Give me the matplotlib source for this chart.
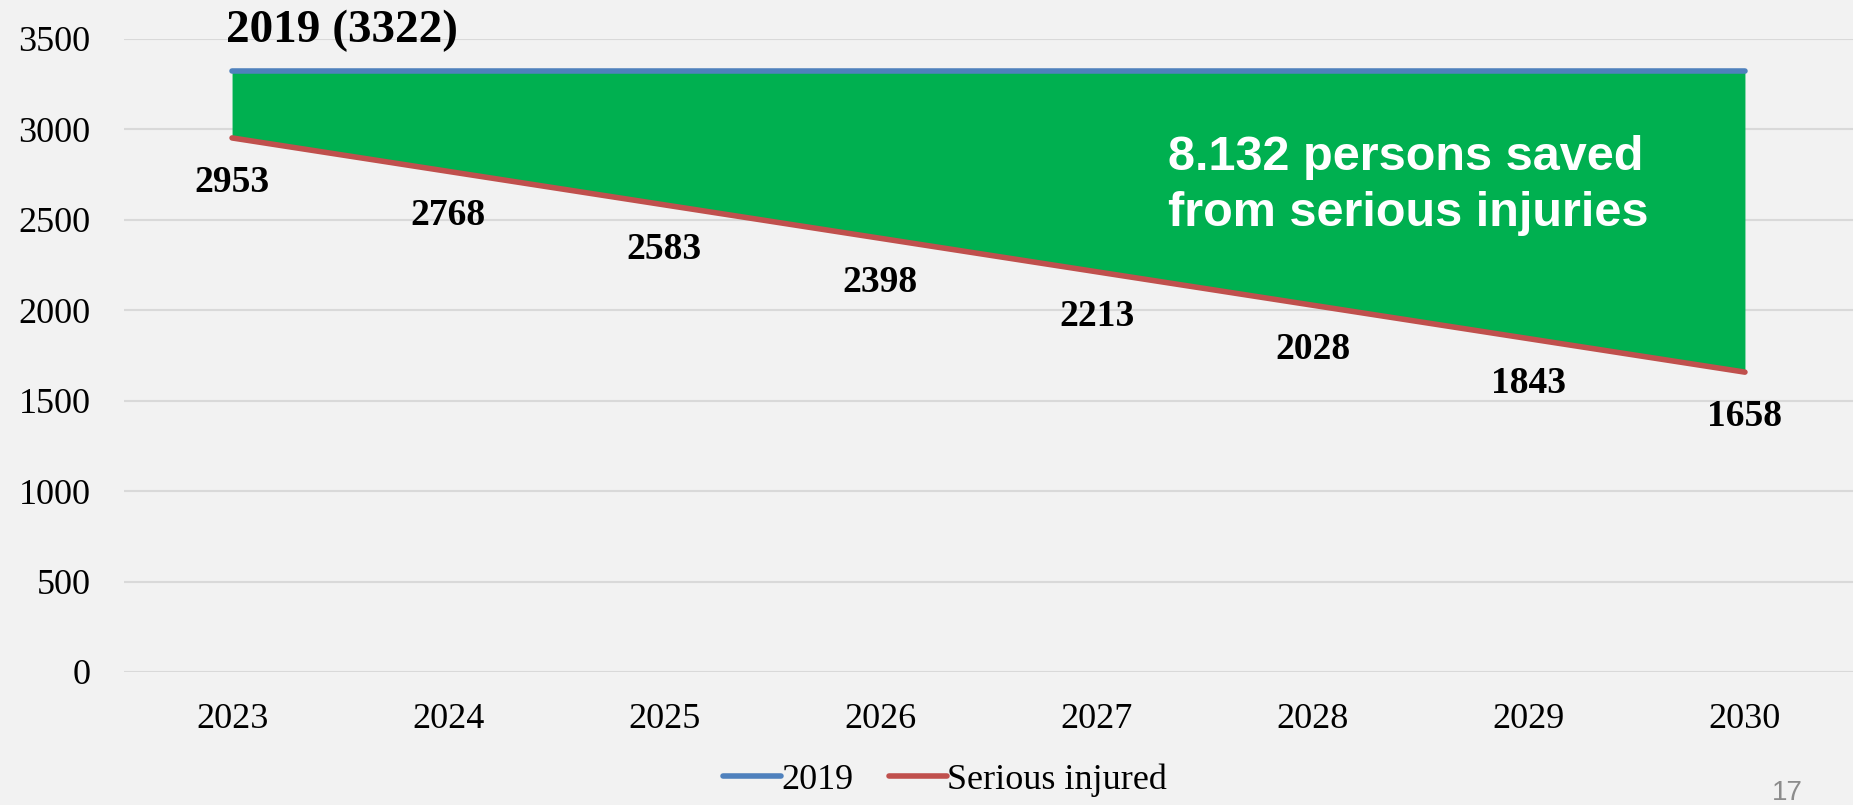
import matplotlib
matplotlib.use("Agg")
import matplotlib.pyplot as plt
import numpy as np

years = ['2023', '2024', '2025', '2026', '2027', '2028', '2029', '2030']
baseline_2019 = [3322] * 8
serious_injured = [2953, 2768, 2583, 2398, 2213, 2028, 1843, 1658]
y_ticks = [0, 500, 1000, 1500, 2000, 2500, 3000, 3500]

bg = '#F2F2F2'
c_blue = '#4F81BD'
c_red = '#C0504D'
c_green = '#00B050'

plt.rcParams['font.family'] = ['Liberation Serif', 'DejaVu Serif']

fig = plt.figure(figsize=(18.53, 8.05), dpi=100, facecolor=bg)
ax = fig.add_axes([124 / 1853, 1 - 672 / 805, (1853 - 124) / 1853, (672 - 39) / 805])
ax.set_facecolor(bg)

x = np.arange(len(years))
ax.fill_between(x, serious_injured, baseline_2019, color=c_green, lw=0, zorder=2)
ax.plot(x, baseline_2019, color=c_blue, lw=4, solid_capstyle='round', label='2019', zorder=3)
ax.plot(x, serious_injured, color=c_red, lw=4, solid_capstyle='round', label='Serious injured', zorder=3)

for xi, v in zip(x, serious_injured):
    ax.annotate(str(v), (xi, v), xytext=(0, -32), textcoords='offset points',
                ha='center', va='center', fontsize=27, fontweight='bold')

ax.annotate('2019 (3322)', (0.51, baseline_2019[0]), xytext=(0, 29), textcoords='offset points',
            ha='center', va='center', fontsize=34, fontweight='bold', annotation_clip=False)

ax.text(4.33, 2690, '8.132 persons saved\nfrom serious injuries', color='white',
        fontsize=35, fontweight='bold', family=['Liberation Sans', 'DejaVu Sans'],
        ha='left', va='center', linespacing=1.3, zorder=4)

ax.set_xlim(-0.5, len(years) - 0.5)
ax.set_ylim(0, 3500)
ax.set_xticks(x)
ax.set_xticklabels(years)
ax.set_yticks(y_ticks)
ax.tick_params(axis='both', length=0, labelsize=26)
ax.tick_params(axis='y', pad=24)
ax.tick_params(axis='x', pad=22)
ax.grid(axis='y', color='#D9D9D9', lw=1.5, zorder=0)
ax.set_axisbelow(True)
for s in ax.spines.values():
    s.set_visible(False)

fig.legend(loc='center', bbox_to_anchor=(945 / 1853, 1 - 780 / 805), ncol=2, frameon=False,
           fontsize=26, handlelength=1.6, handletextpad=0.0, columnspacing=1.0)

fig.text(1787 / 1853, 1 - 793 / 805, '17', color='#8C8C8C', fontsize=20,
         family=['Liberation Sans', 'DejaVu Sans'], ha='center', va='center')

fig.savefig('out.png', dpi=100, facecolor=bg)
